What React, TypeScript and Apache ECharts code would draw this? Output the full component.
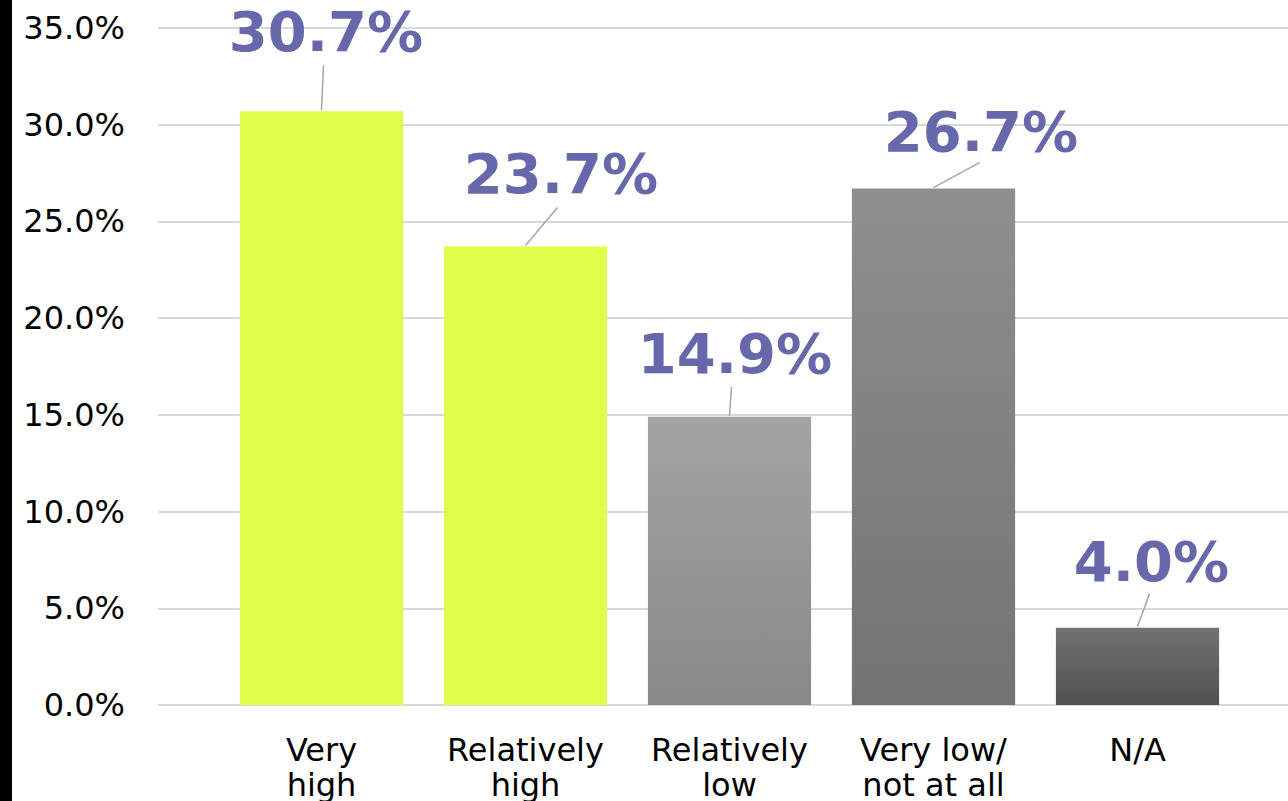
import React, { useEffect, useRef } from "react";
import * as echarts from "echarts";

const categories = ["Very\nhigh", "Relatively\nhigh", "Relatively\nlow", "Very low/\nnot at all", "N/A"];
const values = [30.7, 23.7, 14.9, 26.7, 4.0];
const yTicks = { min: 0, max: 35, interval: 5 };

// styling / layout (not data)
const barColors: [string, string][] = [
  ["#e1ff4a", "#e1ff4a"],
  ["#e1ff4a", "#e1ff4a"],
  ["#a3a3a3", "#898989"],
  ["#8f8f8f", "#737373"],
  ["#727272", "#515151"],
];
// [labelDx, labelDy, lineEndDx, lineEndDy] relative to bar top centre
const labelOffsets: [number, number, number, number][] = [
  [4.5, -79.5, 2, -46],
  [35.5, -73, 32, -39],
  [5.5, -63.5, 2, -30],
  [47.5, -57.5, 46, -26],
  [14, -66.5, 12, -34],
];

export default function App() {
  const ref = useRef<HTMLDivElement>(null);
  useEffect(() => {
    document.body.style.margin = "0";
    const chart = echarts.init(ref.current!, null, { renderer: "svg" });
    const font = "'DejaVu Sans', Verdana, sans-serif";
    chart.setOption({
      animation: false,
      backgroundColor: "#ffffff",
      grid: [
        { left: 158, right: 0, top: 28, bottom: 96, outerBoundsMode: "none", containLabel: false },
        { left: 219.5, right: 48.5, top: 28, bottom: 96, outerBoundsMode: "none", containLabel: false },
      ],
      xAxis: [
        { type: "category", gridIndex: 0, data: [""], show: false },
        {
          type: "category",
          gridIndex: 1,
          data: categories,
          axisLine: { show: false },
          axisTick: { show: false },
          axisLabel: {
            interval: 0,
            margin: 27,
            fontFamily: font,
            fontSize: 32,
            lineHeight: 35,
            color: "#000000",
          },
        },
      ],
      yAxis: [
        {
          type: "value",
          gridIndex: 0,
          min: yTicks.min,
          max: yTicks.max,
          interval: yTicks.interval,
          axisLine: { show: false },
          axisTick: { show: false },
          splitLine: { lineStyle: { color: "#d9d9d9", width: 2 } },
          axisLabel: {
            margin: 33,
            fontFamily: font,
            fontSize: 32,
            color: "#000000",
            formatter: (v: number) => v.toFixed(1) + "%",
          },
        },
        {
          type: "value",
          gridIndex: 1,
          min: yTicks.min,
          max: yTicks.max,
          interval: yTicks.interval,
          show: false,
          splitLine: { show: false },
        },
      ],
      graphic: [
        { type: "rect", left: 0, top: 0, shape: { x: 0, y: 0, width: 12, height: 801 }, style: { fill: "#000000" } },
      ],
      series: [
        {
          type: "bar",
          xAxisIndex: 1,
          yAxisIndex: 1,
          barCategoryGap: "20%",
          data: values.map((v, i) => ({
            value: v,
            itemStyle: {
              color: new echarts.graphic.LinearGradient(0, 0, 0, 1, [
                { offset: 0, color: barColors[i][0] },
                { offset: 1, color: barColors[i][1] },
              ]),
            },
          })),
        },
        {
          type: "custom",
          xAxisIndex: 1,
          yAxisIndex: 1,
          clip: false,
          z: 5,
          data: values.map((v, i) => [i, v]),
          renderItem: (params: any, api: any) => {
            const i = params.dataIndex;
            const pt = api.coord([api.value(0), api.value(1)]);
            const o = labelOffsets[i];
            return {
              type: "group",
              children: [
                {
                  type: "line",
                  shape: { x1: pt[0], y1: pt[1] - 1, x2: pt[0] + o[2], y2: pt[1] + o[3] },
                  style: { stroke: "#a6a6a6", lineWidth: 1.5 },
                },
                {
                  type: "text",
                  x: pt[0] + o[0],
                  y: pt[1] + o[1],
                  style: {
                    text: values[i].toFixed(1) + "%",
                    fill: "#6668ab",
                    fontFamily: font,
                    fontWeight: "bold",
                    fontSize: 56,
                    align: "center",
                    verticalAlign: "middle",
                  },
                },
              ],
            };
          },
        },
      ],
    });
    return () => chart.dispose();
  }, []);
  return <div ref={ref} style={{ width: 1288, height: 801 }} />;
}
